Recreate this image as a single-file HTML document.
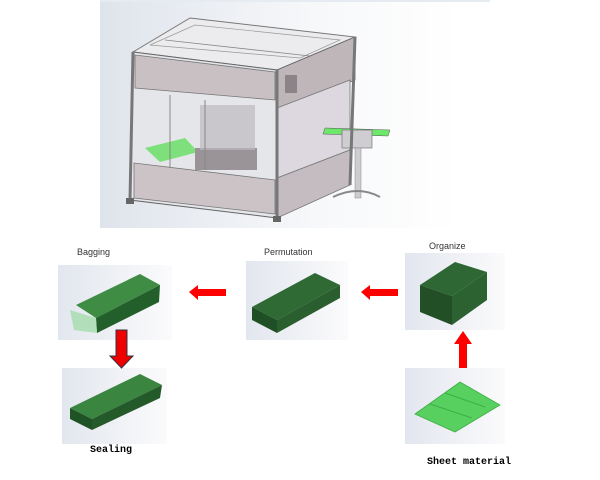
<!DOCTYPE html>
<html><head><meta charset="utf-8"><style>
body{margin:0;background:#fff;width:600px;height:480px;overflow:hidden}
svg{display:block}
</style></head><body>
<svg width="600" height="480" viewBox="0 0 600 480" xmlns="http://www.w3.org/2000/svg">
<defs>
<linearGradient id="bg" x1="0" x2="1" y1="0" y2="0"><stop offset="0" stop-color="#dfe4ec"/><stop offset="0.6" stop-color="#f7f8fa"/><stop offset="1" stop-color="#ffffff"/></linearGradient>
<linearGradient id="pb" x1="0" x2="1"><stop offset="0" stop-color="#e2e6ee"/><stop offset="1" stop-color="#fbfbfc"/></linearGradient>
</defs>
<rect x="100" y="0" width="360" height="228" fill="url(#bg)"/>
<rect x="100" y="0" width="390" height="2" fill="#e6ebf2"/>
<!-- machine -->
<polygon points="133,52 190,18 355,37 277,70" fill="#ecebee" stroke="#777" stroke-width="1"/>
<polygon points="150,45 195,25 340,40 300,58" fill="none" stroke="#999" stroke-width="0.7"/>
<line x1="165" y1="40" x2="310" y2="56" stroke="#888" stroke-width="0.8"/>
<polygon points="133,52 277,70 277,218 130,200" fill="#e4e6ea" stroke="#666" stroke-width="1"/>
<polygon points="135,55 275,72 275,100 135,88" fill="#c8c0c3" stroke="#777" stroke-width="0.8"/>
<polygon points="134,163 275,180 275,214 134,198" fill="#cbc3c6" stroke="#777" stroke-width="0.8"/>
<polygon points="277,70 355,37 355,80 283,108 277,108" fill="#bfb6ba" stroke="#666" stroke-width="0.8"/>
<rect x="285" y="75" width="12" height="18" fill="#8a8488"/>
<polygon points="277,108 350,80 350,150 277,178" fill="#ddd8e0" stroke="#777" stroke-width="0.8"/>
<polygon points="277,178 350,150 350,185 277,218" fill="#c4bcc0" stroke="#777" stroke-width="0.8"/>
<!-- interior -->
<polygon points="145,148 185,138 198,152 160,162" fill="#7de07a"/>
<rect x="195" y="148" width="62" height="22" fill="#9a9498"/>
<rect x="200" y="105" width="55" height="45" fill="#bdb8bf" opacity="0.7"/>
<line x1="170" y1="95" x2="170" y2="168" stroke="#888"/>
<line x1="205" y1="100" x2="205" y2="170" stroke="#888"/>
<!-- conveyor -->
<polygon points="325,128 390,130 388,136 323,134" fill="#6ee86a" stroke="#555" stroke-width="0.5"/>
<rect x="342" y="130" width="30" height="18" fill="#d0cdd2" stroke="#666" stroke-width="0.6"/>
<rect x="355" y="148" width="6" height="50" fill="#cfcbd0" stroke="#888" stroke-width="0.5"/>
<path d="M333,197 Q358,185 380,197" fill="none" stroke="#888" stroke-width="2"/>
<!-- frame posts -->
<line x1="133" y1="52" x2="130" y2="200" stroke="#777" stroke-width="3"/>
<line x1="277" y1="70" x2="277" y2="218" stroke="#777" stroke-width="3"/>
<line x1="355" y1="37" x2="350" y2="185" stroke="#777" stroke-width="3"/>
<rect x="126" y="198" width="8" height="6" fill="#666"/>
<rect x="273" y="216" width="8" height="6" fill="#666"/>
<!-- panels -->
<rect x="58" y="265" width="114" height="75" fill="url(#pb)"/>
<rect x="246" y="261" width="102" height="79" fill="url(#pb)"/>
<rect x="405" y="253" width="100" height="77" fill="url(#pb)"/>
<rect x="405" y="368" width="100" height="76" fill="url(#pb)"/>
<rect x="62" y="368" width="105" height="76" fill="url(#pb)"/>
<!-- bagging -->
<polygon points="76,305 140,274 160,285 96,318" fill="#3f8c45"/>
<polygon points="96,318 160,285 159,302 97,333" fill="#225f2a"/>
<polygon points="70,310 96,318 97,333 74,330" fill="#a8ddb0" opacity="0.85"/>
<!-- permutation -->
<polygon points="252,307 315,273 340,285 277,320" fill="#2f6a35"/>
<polygon points="252,307 277,320 277,333 252,320" fill="#1f4f24"/>
<polygon points="277,320 340,285 340,298 277,333" fill="#2a5e2f"/>
<!-- organize -->
<polygon points="420,285 455,262 487,272 452,296" fill="#2e6733"/>
<polygon points="420,285 452,296 452,325 420,312" fill="#234f27"/>
<polygon points="452,296 487,272 487,300 452,325" fill="#2c6131"/>
<!-- sheet -->
<polygon points="415,414 460,382 500,405 455,432" fill="#58d05f" stroke="#3fae45" stroke-width="0.8"/>
<line x1="430" y1="404" x2="472" y2="418" stroke="#3fae45"/>
<line x1="445" y1="393" x2="485" y2="407" stroke="#3fae45"/>
<!-- sealing -->
<polygon points="70,408 140,374 162,385 92,419" fill="#3a8540"/>
<polygon points="70,408 92,419 92,430 70,419" fill="#1f5224"/>
<polygon points="92,419 162,385 160,398 92,430" fill="#245a29"/>
<!-- arrows -->
<polygon points="189,292 198,285 198,289 226,289 226,296 198,296 198,300" fill="#f00"/>
<polygon points="361,292 370,285 370,289 398,289 398,296 370,296 370,300" fill="#f00"/>
<polygon points="463,331 472,344 467,344 467,368 459,368 459,344 454,344" fill="#f00"/>
<polygon points="116,330 127,330 127,356 133,356 121.5,368 110,356 116,356" fill="#e00" stroke="#334" stroke-width="1"/>
<!-- labels -->
<g font-family="Liberation Sans, sans-serif" font-size="9" fill="#333">
<text x="77" y="255">Bagging</text>
<text x="264" y="255">Permutation</text>
<text x="429" y="249">Organize</text>
</g>
<g font-family="Liberation Mono, monospace" font-weight="bold" font-size="10" fill="#000">
<text x="90" y="452">Sealing</text>
<text x="427" y="464">Sheet material</text>
</g>
</svg>
</body></html>
